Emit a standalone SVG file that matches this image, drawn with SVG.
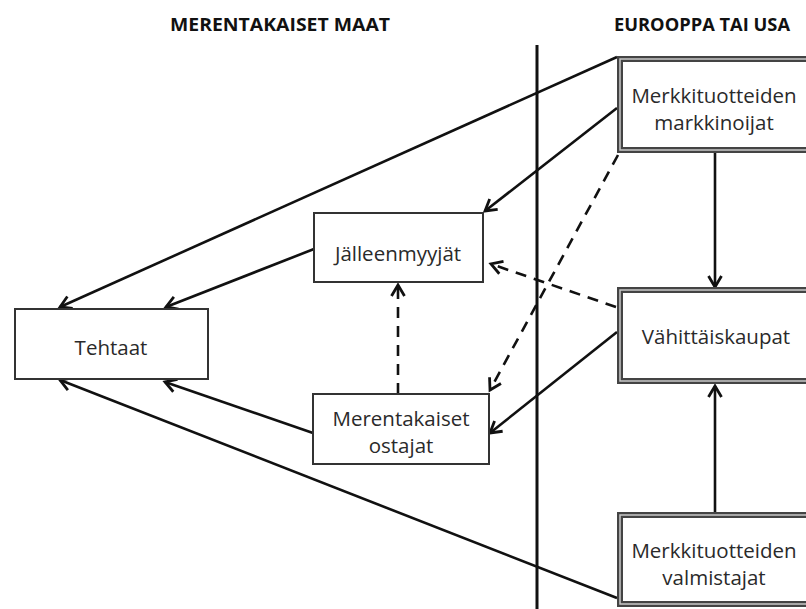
<svg xmlns="http://www.w3.org/2000/svg" width="806" height="609" viewBox="0 0 806 609">
  <style>
    .box { fill: #fff; stroke: #333; stroke-width: 2; }
    .dbl-out { fill: #fff; stroke: #444; stroke-width: 6; }
    .dbl-in { fill: none; stroke: #c8c8c8; stroke-width: 1.5; }
    .lbl { font-family: "Open Sans", "Liberation Sans", sans-serif; font-size: 20.5px; fill: #2a2a2a; text-anchor: middle; }
    .hdr { font-family: "Open Sans", "Liberation Sans", sans-serif; font-size: 17px; font-weight: bold; fill: #111; text-anchor: middle; }
    .ln { stroke: #111; stroke-width: 2.6; fill: none; marker-end: url(#arr); }
    .dash { stroke-dasharray: 11 8; }
  </style>
  <defs>
    <marker id="arr" markerUnits="userSpaceOnUse" markerWidth="16" markerHeight="16" refX="13" refY="8" orient="auto">
      <path d="M2,1.5 L13,8 L2,14.5" fill="none" stroke="#111" stroke-width="2.8"/>
    </marker>
  </defs>

  <rect width="806" height="609" fill="#fff"/>

  <!-- region headings -->
  <text class="hdr" x="280" y="31" textLength="220" lengthAdjust="spacingAndGlyphs">MERENTAKAISET MAAT</text>
  <text class="hdr" x="702" y="31" textLength="176" lengthAdjust="spacingAndGlyphs">EUROOPPA TAI USA</text>

  <!-- border between regions -->
  <line x1="537" y1="45" x2="537" y2="609" stroke="#111" stroke-width="3"/>

  <g id="connectors">
    <line class="ln" x1="617" y1="57" x2="60" y2="307"/>
    <line class="ln" x1="617" y1="108" x2="485" y2="211"/>
    <line class="ln dash" x1="618" y1="155" x2="490" y2="390"/>
    <line class="ln" x1="715" y1="152" x2="715" y2="287"/>
    <line class="ln dash" x1="616" y1="307" x2="491" y2="264"/>
    <line class="ln" x1="617" y1="332" x2="490" y2="433"/>
    <line class="ln" x1="715" y1="513" x2="715" y2="386"/>
    <line class="ln" x1="617" y1="598" x2="60" y2="380"/>
    <line class="ln" x1="314" y1="249" x2="166" y2="307"/>
    <line class="ln" x1="313" y1="433" x2="165" y2="382"/>
    <line class="ln dash" x1="398" y1="394" x2="398" y2="285"/>
  </g>

  <g id="tehtaat">
    <rect class="box" x="15" y="309" width="193" height="70"/>
    <text class="lbl" x="111" y="355">Tehtaat</text>
  </g>

  <g id="jalleenmyyjat">
    <rect class="box" x="314" y="213" width="169" height="69"/>
    <text class="lbl" x="398" y="261">Jälleenmyyjät</text>
  </g>

  <g id="merentakaiset-ostajat">
    <rect class="box" x="313" y="394" width="176" height="70"/>
    <text class="lbl" x="401" y="426">Merentakaiset</text>
    <text class="lbl" x="401" y="453">ostajat</text>
  </g>

  <g id="markkinoijat">
    <rect class="dbl-out" x="620" y="59" width="200" height="91"/>
    <rect class="dbl-in" x="620" y="59" width="200" height="91"/>
    <text class="lbl" x="714" y="103">Merkkituotteiden</text>
    <text class="lbl" x="714" y="130">markkinoijat</text>
  </g>

  <g id="vahittaiskaupat">
    <rect class="dbl-out" x="620" y="290" width="200" height="91"/>
    <rect class="dbl-in" x="620" y="290" width="200" height="91"/>
    <text class="lbl" x="716" y="344">Vähittäiskaupat</text>
  </g>

  <g id="valmistajat">
    <rect class="dbl-out" x="620" y="515" width="200" height="89"/>
    <rect class="dbl-in" x="620" y="515" width="200" height="89"/>
    <text class="lbl" x="714" y="558">Merkkituotteiden</text>
    <text class="lbl" x="714" y="585">valmistajat</text>
  </g>
</svg>
